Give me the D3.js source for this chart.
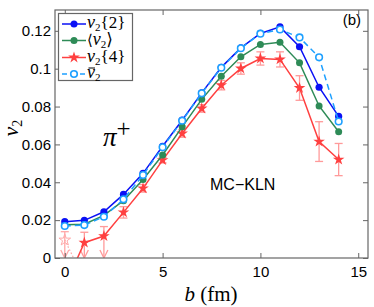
<!DOCTYPE html>
<html><head><meta charset="utf-8">
<script src="https://cdn.jsdelivr.net/npm/d3@7"></script>
<style>body{margin:0;background:#fff}svg{display:block}</style>
</head><body><svg id="c" width="374" height="307"></svg>
<script>
const b = [0,1,2,3,4,5,6,7,8,9,10,11,12,13,14];
const v2two = [0.0192,0.0199,0.0244,0.0336,0.0447,0.0590,0.0728,0.0872,0.1007,0.1110,0.1186,0.1221,0.1116,0.0902,0.0748];
const v2mean = [0.0175,0.0178,0.0225,0.0303,0.0415,0.0544,0.0693,0.0838,0.0960,0.1063,0.1128,0.1140,0.1031,0.0803,0.0667];
const v2bar = [0.0169,0.0174,0.0218,0.0310,0.0438,0.0585,0.0725,0.0870,0.1005,0.1108,0.1185,0.1207,0.1165,0.1060,0.0721];
const v2four = [-0.0150,0.0081,0.0116,0.0241,0.0368,0.0517,0.0658,0.0790,0.0913,0.1001,0.1054,0.1049,0.0898,0.0615,0.0520];
const v2fourErr = [0,0.0055,0.0050,0.0030,0.0020,0.0015,0.0020,0.0020,0.0025,0.0030,0.0035,0.0040,0.0065,0.0105,0.0085];
// faded (unphysical) b=0 estimate of v2{4}
const fadedB = [0, 0.45];
const fadedV = [0.0095, 0];
const fadedErr = 0.0044;
const xTicks = [0,5,10,15];
const yTicks = [0,0.02,0.04,0.06,0.08,0.1,0.12];
const yTickLabels = ["0","0.02","0.04","0.06","0.08","0.1","0.12"];

const svg = d3.select("#c");
const L=55, R=368, T=10, B=258;
const x = d3.scaleLinear().domain([-0.5,15.5]).range([L,R]);
const y = d3.scaleLinear().domain([0,0.131]).range([B,T]);
const BLUE="#0a10f5", GREEN="#2e8b57", RED="#ff4040", LRED="#ff9a9a", LBLUE="#1ea0ff", AX="#666";

svg.append("defs").append("clipPath").attr("id","pc").append("rect")
  .attr("x",L).attr("y",T).attr("width",R-L).attr("height",B-T);
const plot = svg.append("g").attr("clip-path","url(#pc)");

const axB = d3.axisBottom(x).tickValues(xTicks).tickSize(-5).tickPadding(8).tickFormat(d3.format("d"));
const axT = d3.axisTop(x).tickValues(xTicks).tickSize(-5).tickFormat("");
const axL = d3.axisLeft(y).tickValues(yTicks).tickSize(-5).tickPadding(4).tickFormat((d,i)=>yTickLabels[i]);
const axR = d3.axisRight(y).tickValues(yTicks).tickSize(-5).tickFormat("");
function style(g){g.select(".domain").remove();g.selectAll("line").attr("stroke",AX);
  g.selectAll("text").attr("fill","#000").style("font-family","Liberation Sans, Arial, sans-serif").style("font-size","15px");}
svg.append("g").attr("transform",`translate(0,${B})`).call(axB).call(style);
svg.append("g").attr("transform",`translate(0,${T})`).call(axT).call(style);
svg.append("g").attr("transform",`translate(${L},0)`).call(axL).call(style);
svg.append("g").attr("transform",`translate(${R},0)`).call(axR).call(style);
svg.append("rect").attr("x",L).attr("y",T).attr("width",R-L).attr("height",B-T)
  .attr("fill","none").attr("stroke",AX).attr("stroke-width",1.2);

const line = (vals)=>d3.line().x((d,i)=>x(b[i])).y(d=>y(d))(vals);
const star = d3.symbol().type(d3.symbolStar).size(42);

const fg = plot.append("g").attr("opacity",0.45);
fg.append("path").attr("d",d3.line().x((d,i)=>x(fadedB[i])).y(d=>y(d))(fadedV))
  .attr("fill","none").attr("stroke",RED).attr("stroke-width",1.2).attr("stroke-dasharray","1.5,2");

const ebars = plot.append("g");
b.forEach((bv,i)=>{
  const v=v2four[i], e=v2fourErr[i];
  if(e<=0) return;
  const lo = v<0.015 ? 0 : v-e;
  ebars.append("line").attr("x1",x(bv)).attr("x2",x(bv)).attr("y1",y(v+e)).attr("y2",y(lo)).attr("stroke",LRED).attr("stroke-width",1.3);
  ebars.append("line").attr("x1",x(bv)-4).attr("x2",x(bv)+4).attr("y1",y(v+e)).attr("y2",y(v+e)).attr("stroke",LRED).attr("stroke-width",1.3);
  if(lo===0){
    ebars.append("path").attr("d",`M${x(bv)-4},${y(0)-8}L${x(bv)},${y(0)}L${x(bv)+4},${y(0)-8}`).attr("fill","none").attr("stroke",LRED).attr("stroke-width",1.3);
  } else {
    ebars.append("line").attr("x1",x(bv)-4).attr("x2",x(bv)+4).attr("y1",y(lo)).attr("y2",y(lo)).attr("stroke",LRED).attr("stroke-width",1.3);
  }
});
fg.append("line").attr("x1",x(fadedB[0])).attr("x2",x(fadedB[0])).attr("y1",y(fadedV[0]+fadedErr)).attr("y2",y(0)).attr("stroke",RED).attr("stroke-width",1.3);
fg.append("line").attr("x1",x(fadedB[0])-4).attr("x2",x(fadedB[0])+4).attr("y1",y(fadedV[0]+fadedErr)).attr("y2",y(fadedV[0]+fadedErr)).attr("stroke",RED).attr("stroke-width",1.3);
fg.append("path").attr("d",`M${x(fadedB[0])-4},${y(0)-8}L${x(fadedB[0])},${y(0)}L${x(fadedB[0])+4},${y(0)-8}`).attr("fill","none").attr("stroke",RED).attr("stroke-width",1.3);
fg.append("path").attr("d",star()).attr("transform",`translate(${x(fadedB[0])},${y(fadedV[0])})`).attr("fill","none").attr("stroke",RED).attr("stroke-width",1);

plot.append("path").attr("d",line(v2four)).attr("fill","none").attr("stroke",RED).attr("stroke-width",1.5);
b.forEach((bv,i)=>{ if(v2four[i]>0) plot.append("path").attr("d",star()).attr("transform",`translate(${x(bv)},${y(v2four[i])})`).attr("fill",RED); });

plot.append("path").attr("d",line(v2mean)).attr("fill","none").attr("stroke",GREEN).attr("stroke-width",1.5);
plot.selectAll(".gd").data(v2mean).enter().append("circle").attr("cx",(d,i)=>x(b[i])).attr("cy",d=>y(d)).attr("r",3.5).attr("fill",GREEN);
plot.append("path").attr("d",line(v2two)).attr("fill","none").attr("stroke",BLUE).attr("stroke-width",1.5);
plot.selectAll(".bd").data(v2two).enter().append("circle").attr("cx",(d,i)=>x(b[i])).attr("cy",d=>y(d)).attr("r",3.6).attr("fill",BLUE);
plot.append("path").attr("d",line(v2bar)).attr("fill","none").attr("stroke",LBLUE).attr("stroke-width",1.5).attr("stroke-dasharray","6,4");
plot.selectAll(".lb").data(v2bar).enter().append("circle").attr("cx",(d,i)=>x(b[i])).attr("cy",d=>y(d)).attr("r",3.3).attr("fill","#fff").attr("stroke",LBLUE).attr("stroke-width",1.6);

// legend
const lg = svg.append("g");
lg.append("rect").attr("x",58.5).attr("y",13.5).attr("width",74).attr("height",67).attr("fill","#fff").attr("stroke",AX).attr("stroke-width",1.2);
const items = [
  {c:BLUE, m:"dot", pre:"", post:"{2}"},
  {c:GREEN, m:"dot", pre:"⟨", post:"⟩"},
  {c:RED, m:"star", pre:"", post:"{4}"},
  {c:LBLUE, m:"open", pre:"", post:"", bar:true}
];
const rowY=[24,40.5,57.5,74];
items.forEach((it,k)=>{
  const yy=rowY[k];
  lg.append("line").attr("x1",62).attr("x2",86).attr("y1",yy).attr("y2",yy).attr("stroke",it.c).attr("stroke-width",1.5)
    .attr("stroke-dasharray",it.m==="open"?"5,4":null);
  if(it.m==="dot") lg.append("circle").attr("cx",74).attr("cy",yy).attr("r",3.5).attr("fill",it.c);
  if(it.m==="star") lg.append("path").attr("d",star()).attr("transform",`translate(74,${yy})`).attr("fill",it.c);
  if(it.m==="open") lg.append("circle").attr("cx",74).attr("cy",yy).attr("r",3.3).attr("fill","#fff").attr("stroke",it.c).attr("stroke-width",1.6);
  const t = lg.append("text").attr("x",87).attr("y",yy+4).style("font-family","Liberation Serif, DejaVu Serif, serif").style("font-size","16px");
  if(it.pre) t.append("tspan").text(it.pre).style("font-size","15px");
  t.append("tspan").text("v").style("font-style","italic").style("font-size","18px");
  t.append("tspan").text("2").style("font-size","11px").attr("dy",3);
  if(it.post) t.append("tspan").text(it.post).attr("dy",-3).style("font-size","17px");
  if(it.bar) lg.append("line").attr("x1",88.5).attr("x2",95).attr("y1",yy-6).attr("y2",yy-6).attr("stroke","#000").attr("stroke-width",1);
});

svg.append("text").attr("x",361).attr("y",25).attr("text-anchor","end").text("(b)")
  .style("font-family","Liberation Sans, Arial, sans-serif").style("font-size","15px");
svg.append("text").attr("x",210).attr("y",189.5).text("MC−KLN")
  .style("font-family","Liberation Sans, Arial, sans-serif").style("font-size","16px");
const pi = svg.append("text").attr("x",103).attr("y",146).style("font-family","Liberation Serif, DejaVu Serif, serif").style("font-size","27px");
pi.append("tspan").text("π").style("font-style","italic");
pi.append("tspan").text("+").attr("dy",-9).style("font-size","25px");

const xl = svg.append("text").attr("x",211).attr("y",301).attr("text-anchor","middle").style("font-family","Liberation Serif, DejaVu Serif, serif").style("font-size","21px");
xl.append("tspan").text("b").style("font-style","italic");
xl.append("tspan").text(" (fm)");

const yl = svg.append("text").attr("transform","translate(18,128) rotate(-90)").attr("text-anchor","middle").style("font-family","Liberation Serif, DejaVu Serif, serif").style("font-size","22px");
yl.append("tspan").text("v").style("font-style","italic");
yl.append("tspan").text("2").style("font-size","14px").attr("dy",4);
</script></body></html>
